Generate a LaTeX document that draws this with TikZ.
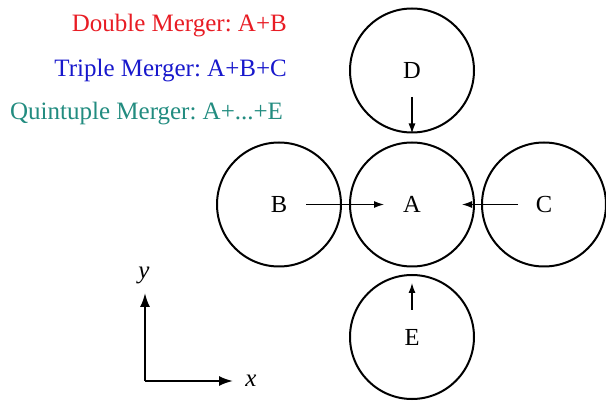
\documentclass[tikz,border=0pt]{standalone}
\usepackage{fontspec}
\setmainfont{Liberation Serif}
\usetikzlibrary{arrows.meta,calc}
\definecolor{mred}{RGB}{232,28,36}
\definecolor{mblue}{RGB}{24,24,204}
\definecolor{mteal}{RGB}{34,140,128}
\frenchspacing
\begin{document}
\begin{tikzpicture}[x=1pt,y=-1pt,
  ball/.style={circle,draw,line width=2pt,minimum size=124pt,inner sep=0pt,font=\fontsize{24.5}{28}\selectfont},
  legend/.style={inner sep=0pt,font=\fontsize{25}{29}\selectfont},
  arr/.style={line width=1.3pt,-{Latex[length=10pt,width=7pt]}},
  axis/.style={line width=2pt,-{Latex[length=14pt,width=10pt]}},
  axlabel/.style={inner sep=0pt,font=\fontsize{25}{28}\selectfont\itshape}]
\useasboundingbox (0,0) rectangle (606,401);
\node[legend,text=mred,anchor=base east] (t1) at (287,32) {Double Merger: A+B};
\node[legend,text=mblue,anchor=base east] (t2) at (287,77) {Triple Merger: A+B+C};
\node[legend,text=mteal,anchor=base west] (t3) at (10,120) {Quintuple Merger: A+...+E};
\node[ball] (A) at (412,204.5) {A};
\node[ball] (B) at (279,204.5) {B};
\node[ball] (C) at (544,204.5) {C};
\node[ball] (D) at (412,70.5) {D};
\node[ball] (E) at (412,337) {E};
\draw[arr] ($(B)+(27,0)$) -- ($(A)+(-28,0)$);
\draw[arr] ($(C)+(-26,0)$) -- ($(A)+(50,0)$);
\draw[arr] ($(D)+(0,26.5)$) -- (D.south);
\draw[arr] ($(E)+(0,-27)$) -- ($(E.north)+(0,9)$);
\coordinate (O) at (145,381);
\coordinate (X) at (233,381);
\coordinate (Y) at (145,293);
\draw[axis] (O) -- (X);
\draw[axis] (O) -- (Y);
\node[axlabel] (xl) at (251,381) {x};
\node[axlabel] (yl) at (144,275) {y};
\end{tikzpicture}
\end{document}
